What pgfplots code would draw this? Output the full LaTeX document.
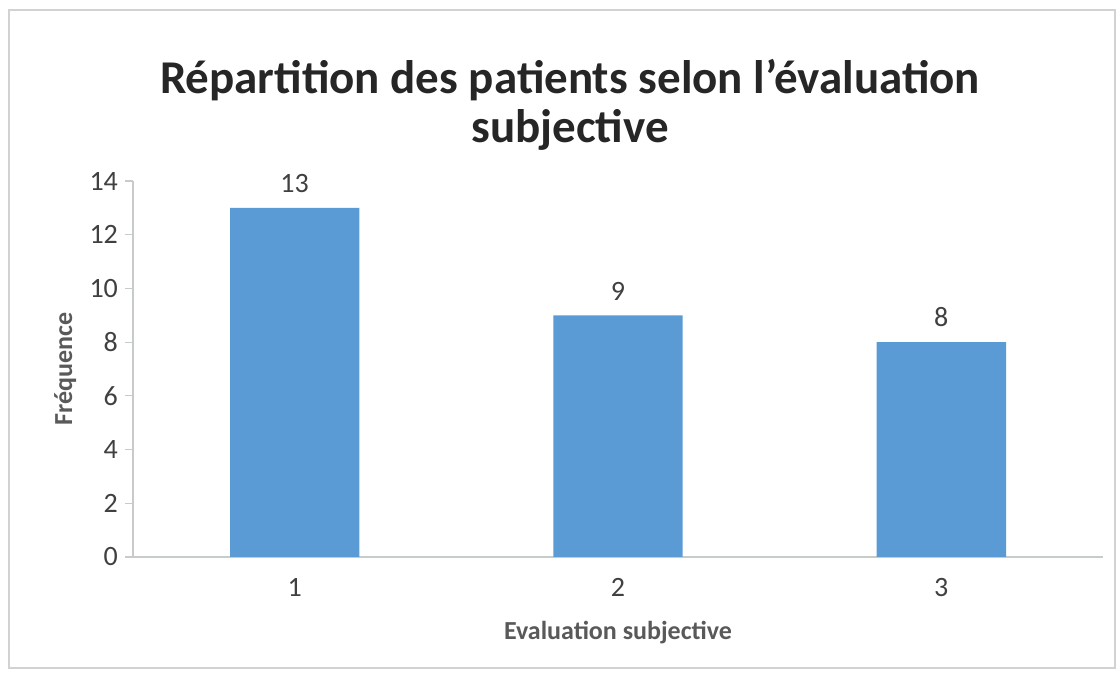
\documentclass[border=0pt]{standalone}
\usepackage{pgfplots}
\pgfplotsset{compat=1.18}
\usepackage{fontspec}
\setmainfont{Carlito}
\definecolor{barblue}{HTML}{5B9BD5}
\definecolor{txtgray}{HTML}{404040}
\definecolor{lblgray}{HTML}{595959}
\definecolor{axgray}{HTML}{C8CCC8}
\begin{document}
\begin{tikzpicture}[x=1pt,y=1pt]
\path[fill=white] (0,0) rectangle (559.5,337);
\draw[gray!35, line width=0.8pt] (4.5,3) rectangle (557.5,332);
\node[font=\bfseries\fontsize{23.5}{28}\selectfont, text=black!85] at (285,297) {Répartition des patients selon l’évaluation};
\node[font=\bfseries\fontsize{23.5}{28}\selectfont, text=black!85] at (285,272) {subjective};
\begin{axis}[
  at={(66.5pt,58.5pt)}, anchor=south west,
  scale only axis, width=485pt, height=188pt,
  xmin=0.5, xmax=3.5, ymin=0, ymax=14,
  axis x line*=bottom, axis y line*=left,
  axis line style={draw=axgray, line width=0.6pt, -},
  xtick={1,2,3},
  x tick style={draw=none},
  extra x ticks={0.5,1.5,2.5,3.5},
  extra x tick labels={},
  extra x tick style={tick style={draw=axgray, line width=0.6pt}, major tick length=4pt, tick align=outside},
  ytick={0,2,...,14},
  y tick style={draw=axgray, line width=0.6pt},
  major tick length=4pt, tick align=outside,
  /pgf/number format/assume math mode=true,
  tick label style={font=\fontsize{14}{16}\selectfont, text=txtgray},
  xticklabel style={yshift=-3pt},
  xlabel={Evaluation subjective},
  ylabel={Fréquence},
  xlabel style={font=\bfseries\fontsize{13}{15}\selectfont, text=lblgray, at={(axis description cs:0.5,-0.2)}, anchor=center},
  ylabel style={font=\bfseries\fontsize{13}{15}\selectfont, text=lblgray, at={(axis description cs:-0.07,0.5)}, anchor=center},
  ybar, bar width=0.4,
  nodes near coords,
  nodes near coords style={font=\fontsize{14}{16}\selectfont, text=txtgray, yshift=4pt},
  clip=false,
]
\addplot[fill=barblue, draw=none] coordinates {(1,13) (2,9) (3,8)};
\end{axis}
\end{tikzpicture}
\end{document}
